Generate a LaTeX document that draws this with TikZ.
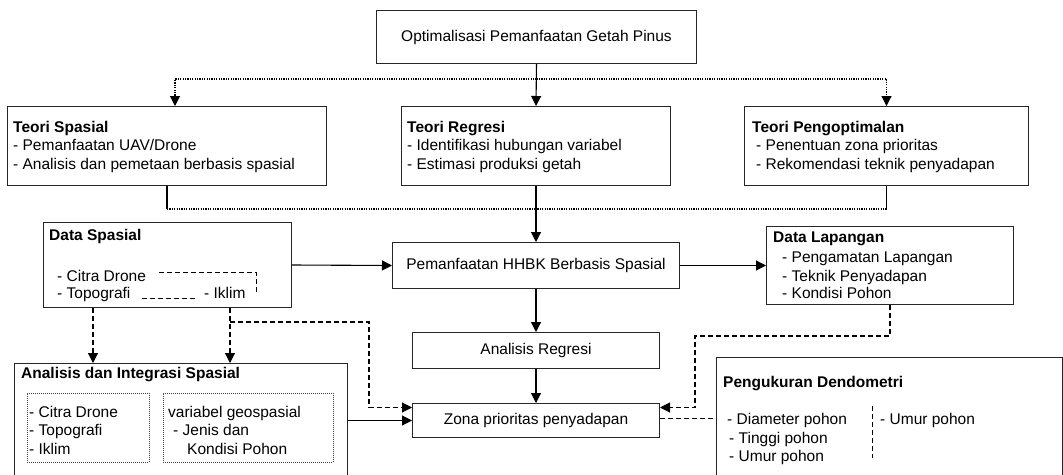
\documentclass[tikz,border=0pt]{standalone}
\usepackage{fontspec}
\setmainfont{Liberation Sans}
\usetikzlibrary{arrows.meta,calc}
\begin{document}
\begin{tikzpicture}[x=1pt,y=-1pt,
  font=\fontsize{15.5}{19}\selectfont,
  box/.style={draw=black!85, line width=1pt, inner sep=0pt, anchor=north west},
  ibox/.style={draw=black!75, dash pattern=on 1pt off 1pt, line width=0.7pt, inner sep=0pt, anchor=north west},
  txt/.style={anchor=base west, inner sep=0pt},
  hd/.style={txt, font=\fontsize{15.5}{19}\selectfont\bfseries},
  conn/.style={line width=1.1pt, black},
  arr/.style={-{Triangle[length=10pt,width=10pt]}},
  dsh/.style={conn, dash pattern=on 5pt off 3pt},
  dotline/.style={conn, dash pattern=on 1.2pt off 1.2pt},
]
\fill[white] (0,0) rectangle (1063,474);
\clip (0,0) rectangle (1063,474);

% ---- boxes ----
\node[box, minimum width=320pt, minimum height=53pt] (title) at (376,10) {Optimalisasi Pemanfaatan Getah Pinus};

\node[box, minimum width=319pt, minimum height=79pt] (tsp) at (7,106) {};
\node[hd]  (tsp1) at (13,132) {Teori Spasial};
\node[txt] (tsp2) at (13,150) {- Pemanfaatan UAV/Drone};
\node[txt] (tsp3) at (13,169) {- Analisis dan pemetaan berbasis spasial};

\node[box, minimum width=269pt, minimum height=79pt] (trg) at (401,106) {};
\node[hd]  (trg1) at (407,132) {Teori Regresi};
\node[txt] (trg2) at (407,150) {- Identifikasi hubungan variabel};
\node[txt] (trg3) at (407,169) {- Estimasi produksi getah};

\node[box, minimum width=284pt, minimum height=79pt] (tpo) at (744,106) {};
\node[hd]  (tpo1) at (752,132) {Teori Pengoptimalan};
\node[txt] (tpo2) at (756,150) {- Penentuan zona prioritas};
\node[txt] (tpo3) at (756,169) {- Rekomendasi teknik penyadapan};

\node[box, minimum width=248pt, minimum height=85pt] (dsp) at (43,222) {};
\node[hd]  (dsp1) at (49,240) {Data Spasial};
\node[txt] (dsp2) at (57,281) {- Citra Drone};
\node[txt] (dsp3) at (57,298) {- Topografi};
\node[txt] (dsp4) at (204,298) {- Iklim};
\draw[dsh, line width=0.9pt] (159,272) -- (256,272) -- (256,293);
\draw[dsh, line width=0.9pt] (142,298) -- (195,298);

\node[box, minimum width=287pt, minimum height=46pt] (hhbk) at (392,242) {Pemanfaatan HHBK Berbasis Spasial};

\node[box, minimum width=247pt, minimum height=78pt] (dlp) at (766,226) {};
\node[hd]  (dlp1) at (773,242) {Data Lapangan};
\node[txt] (dlp2) at (782,262) {- Pengamatan Lapangan};
\node[txt] (dlp3) at (782,281) {- Teknik Penyadapan};
\node[txt] (dlp4) at (782,298) {- Kondisi Pohon};

\node[box, minimum width=247pt, minimum height=36pt] (areg) at (412,332) {Analisis Regresi};
\node[box, minimum width=247pt, minimum height=34pt] (zona) at (412,403) {Zona prioritas penyadapan};

\node[box, minimum width=333pt, minimum height=140pt] (aint) at (14,363) {};
\node[hd]  (aint1) at (21,378) {Analisis dan Integrasi Spasial};
\node[ibox, minimum width=122pt, minimum height=69pt] (in1) at (27,393) {};
\node[txt] (in1a) at (29,417) {- Citra Drone};
\node[txt] (in1b) at (29,435) {- Topografi};
\node[txt] (in1c) at (29,454) {- Iklim};
\node[ibox, minimum width=170pt, minimum height=69pt] (in2) at (163,393) {};
\node[txt] (in2a) at (168,417) {variabel geospasial};
\node[txt] (in2b) at (173,435) {- Jenis dan};
\node[txt] (in2c) at (187,454) {Kondisi Pohon};

\node[box, minimum width=346pt, minimum height=140pt] (peng) at (716,357) {};
\node[hd]  (peng1) at (723,387) {Pengukuran Dendometri};
\node[txt] (peng2) at (727,424) {- Diameter pohon};
\node[txt] (peng3) at (729,443) {- Tinggi pohon};
\node[txt] (peng4) at (729,461) {- Umur pohon};
\node[txt] (peng5) at (880,424) {- Umur pohon};
\draw[dsh, line width=0.9pt] (872,406) -- (872,458);

% ---- connectors ----
\coordinate (j1) at (title.south |- 0,79);
\draw[conn, arr] (title.south) -- (trg.north);
\draw[dotline, arr] (j1) -| ([xshift=8pt]tsp.north);
\draw[dotline, arr] (j1) -| (tpo.north);

\coordinate (j2) at (trg.south |- 0,209);
\draw[conn] (tsp.south) -- (tsp.south |- j2);
\draw[dotline] (tsp.south |- j2) -- (j2);
\draw[conn] (tpo.south) -- (tpo.south |- j2);
\draw[dotline] (tpo.south |- j2) -- (j2);
\draw[conn, arr] (trg.south) -- (hhbk.north);

\draw[conn, arr] (dsp.east) -- (hhbk.west);
\draw[conn, arr] (hhbk.east) -- (dlp.west);
\draw[conn, arr] (hhbk.south) -- (areg.north);
\draw[conn, arr] (areg.south) -- (zona.north);

\coordinate (d1) at ([xshift=50pt]dsp.south west);
\coordinate (d2) at ([xshift=187pt]dsp.south west);
\draw[dsh, arr] (d1) -- (d1 |- aint.north);
\draw[dsh, arr] (d2) -- (d2 |- aint.north);
\coordinate (c1) at (369,322);
\draw[dsh, arr] (d2 |- c1) -- (c1) |- ([yshift=13pt]zona.west);
\draw[conn, arr] (zona.west -| aint.east) -- (zona.west);

\coordinate (c2) at (695,336);
\draw[dsh, arr] (dlp.south) |- (c2) |- ([yshift=13pt]zona.east);
\draw[dsh] ([yshift=2pt]zona.east) -- ([yshift=2pt]zona.east -| peng.west);
\end{tikzpicture}
\end{document}
